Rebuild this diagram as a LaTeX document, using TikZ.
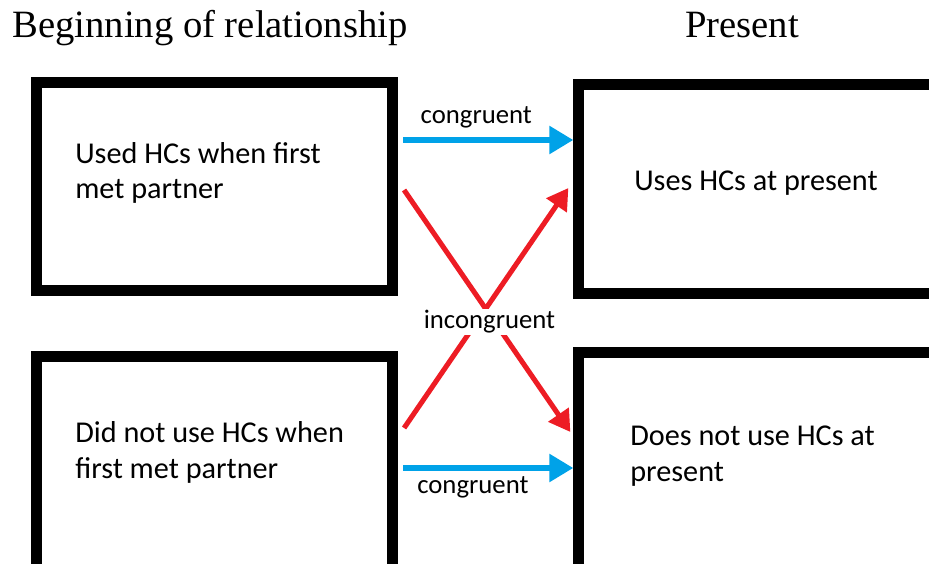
\documentclass[tikz,border=0pt]{standalone}
\usepackage{fontspec}
\setmainfont{Liberation Serif}
\newfontfamily\calfont{Carlito}
\usetikzlibrary{arrows.meta,calc}

\definecolor{congrblue}{RGB}{0,162,232}
\definecolor{incongrred}{RGB}{237,28,36}

\tikzset{
  hcbox/.style={draw, line width=7.8pt, inner sep=0pt},
  boxtext/.style={anchor=base west, inner sep=0pt, align=left,
    font=\calfont\fontsize{21.5}{25.5}\selectfont},
  headtext/.style={inner sep=0pt, font=\fontsize{27.5}{30}\selectfont},
  arrlabel/.style={inner sep=1pt, font=\calfont\fontsize{19}{22}\selectfont},
  congr/.style={draw=congrblue, line width=4.3pt,
    -{Triangle[length=17pt,width=19pt]}},
  incongr/.style={draw=incongrred, line width=3.6pt,
    -{Triangle[length=15pt,width=17pt]}}
}

\begin{document}
\begin{tikzpicture}[x=0.025cm,y=-0.025cm]
\useasboundingbox (0,0) rectangle (929,564);
\clip (0,0) rectangle (929,564);

% column headings
\path (12,38) node (begin) [headtext, anchor=base west] {Beginning of relationship};
\path (742,38) node (present) [headtext, anchor=base] {Present};

% boxes
\path (214.75,186.25) node (usedbox) [hcbox, minimum width=8.89cm, minimum height=5.21cm] {};
\path (214.75,507) node (notusedbox) [hcbox, minimum width=8.89cm, minimum height=7.5cm] {};
\path (789.5,189) node (usesbox) [hcbox, minimum width=10.53cm, minimum height=5.2cm] {};
\path (789.5,503) node (notusesbox) [hcbox, minimum width=10.53cm, minimum height=7.5cm] {};

% box texts (base = last line)
\path (75,199) node (usedtext) [boxtext] {Used HCs when first\\met partner};
\path (75,478) node (notusedtext) [boxtext] {Did not use HCs when\\first met partner};
\path (756,191) node (usestext) [boxtext, anchor=base] {Uses HCs at present};
\path (630,481) node (notusestext) [boxtext] {Does not use HCs at\\present};

% congruent arrows
\draw [congr] ($(usedbox.east |- 0,140)+(5,0)$) -- (usesbox.west |- 0,140)
  node [arrlabel, pos=0.43, anchor=base, yshift=12pt] {congruent};
\draw [congr] ($(notusedbox.east |- 0,468)+(5,0)$) -- (notusesbox.west |- 0,468)
  node [arrlabel, pos=0.41, anchor=base, yshift=-18pt] {congruent};

% incongruent arrows
\draw [incongr] ($(usedbox.east |- 0,190)+(6,0)$) -- ($(notusesbox.west |- 0,432)+(-3,0)$);
\draw [incongr] ($(notusedbox.east |- 0,428)+(6,0)$) -- ($(usesbox.west |- 0,188)+(-5,0)$)
  node [arrlabel, fill=white, pos=0.52, anchor=base, yshift=-18pt] {incongruent};

\end{tikzpicture}
\end{document}
